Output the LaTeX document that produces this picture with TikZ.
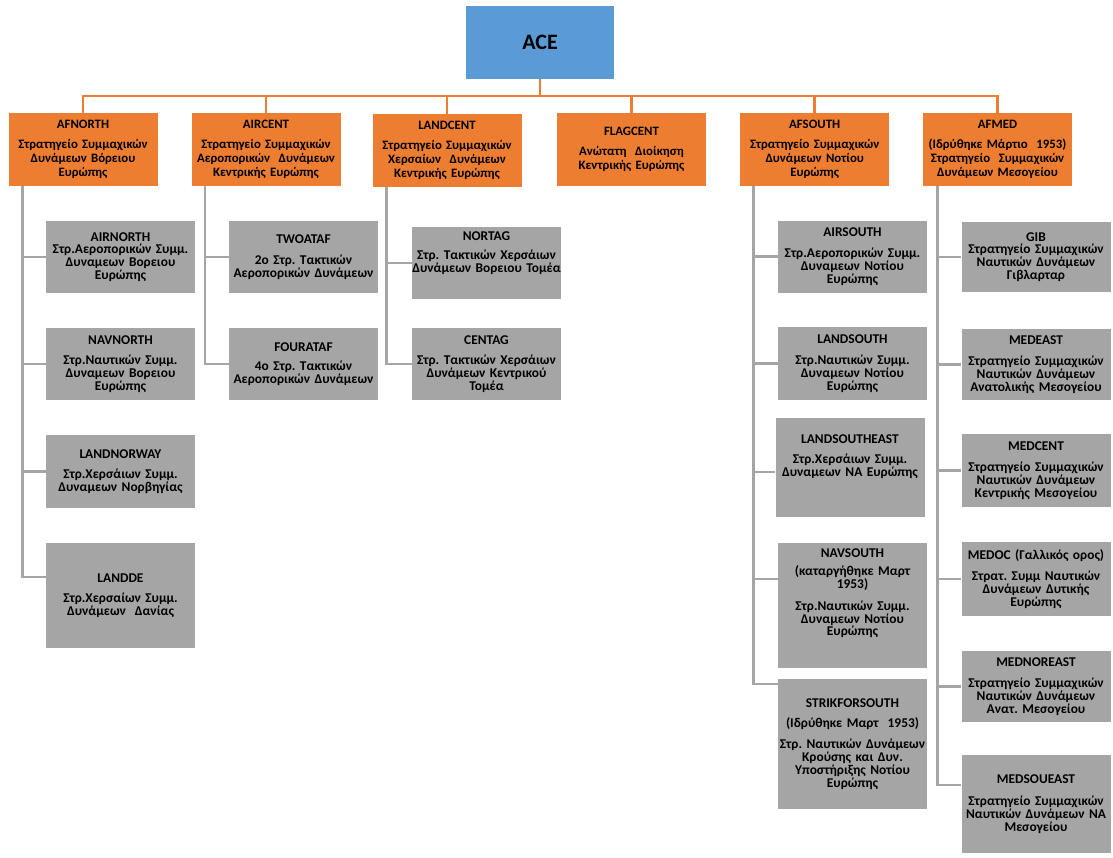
\documentclass[tikz,border=0pt]{standalone}
\usepackage{fontspec}
\setmainfont{Carlito}
\frenchspacing
\definecolor{ornge}{HTML}{ED7D31}
\definecolor{blu}{HTML}{5B9BD5}
\definecolor{gry}{HTML}{A5A5A5}
\begin{document}
\begin{tikzpicture}[x=1pt,y=-1pt,
 box/.style={inner ysep=0pt, inner xsep=-2pt, text width=153pt, align=center, minimum width=149pt, text=black, font=\bfseries\fontsize{13.4}{12.8}\selectfont},
 obox/.style={box, fill=ornge, minimum height=73pt, font=\bfseries\fontsize{12.8}{13.8}\selectfont},
 gbox/.style={box, fill=gry},
 acebox/.style={inner sep=0pt, fill=blu, minimum width=148pt, minimum height=73pt, font=\bfseries\fontsize{22}{25}\selectfont},
 oline/.style={draw=ornge, line width=2.6pt},
 gline/.style={draw=gry, line width=2.6pt},
]
\useasboundingbox (0,0) rectangle (1113,857);

\node[acebox] (ace) at (540,42) {ACE};

\node[obox] (afnorth) at (83,149.5) {AFNORTH\\[6pt]Στρατηγείο Συμμαχικών\\Δυνάμεων Βόρειου\\Ευρώπης};
\node[obox] (aircent) at (266,149.5) {AIRCENT\\[6pt]Στρατηγείο Συμμαχικών\\Αεροπορικών~ Δυνάμεων\\Κεντρικής Ευρώπης};
\node[obox] (landcent) at (447,150.5) {LANDCENT\\[6pt]Στρατηγείο Συμμαχικών\\Χερσαίων~ Δυνάμεων\\Κεντρικής Ευρώπης};
\node[obox] (flagcent) at (631.5,149.5) {FLAGCENT\\[6pt]Ανώτατη~ Διοίκηση\\Κεντρικής Ευρώπης};
\node[obox] (afsouth) at (814.7,149.5) {AFSOUTH\\[6pt]Στρατηγείο Συμμαχικών\\Δυνάμεων Νοτίου\\Ευρώπης};
\node[obox] (afmed) at (997.5,149.5) {AFMED\\[6pt](Ιδρύθηκε Μάρτιο~ 1953)\\Στρατηγείο~ Συμμαχικών\\Δυνάμεων Μεσογείου};

% AFNORTH column
\node[gbox, minimum height=72pt] (airnorth) at (120.5,257) {AIRNORTH\\Στρ.Αεροπορικών Συμμ.\\Δυναμεων Βορειου\\Ευρώπης};
\node[gbox, minimum height=72pt] (navnorth) at (120.5,364) {NAVNORTH\\[7pt]Στρ.Ναυτικών Συμμ.\\Δυναμεων Βορειου\\Ευρώπης};
\node[gbox, minimum height=73pt] (landnorway) at (120.5,471.5) {LANDNORWAY\\[7pt]Στρ.Χερσάιων Συμμ.\\Δυναμεων Νορβηγίας};
\node[gbox, minimum height=105pt] (landde) at (120.5,595.5) {LANDDE\\[8pt]Στρ.Χερσαίων Συμμ.\\Δυνάμεων~ Δανίας};

% AIRCENT column
\node[gbox, minimum height=72pt] (twoataf) at (303.5,257) {TWOATAF\\[8pt]2ο Στρ. Τακτικών\\Αεροπορικών Δυνάμεων};
\node[gbox, minimum height=72pt] (fourataf) at (303.5,364) {FOURATAF\\[7pt]4ο Στρ. Τακτικών\\Αεροπορικών Δυνάμεων};

% LANDCENT column
\node[gbox, minimum height=72pt] (nortag) at (486.5,263) {NORTAG\\[6pt]Στρ. Τακτικών Χερσάιων\\Δυνάμεων Βορειου Τομέα\par\vspace*{20pt}};
\node[gbox, minimum height=72pt] (centag) at (486.5,364) {CENTAG\\[8pt]Στρ. Τακτικών Χερσάιων\\Δυνάμεων Κεντρικού\\Τομέα};

% AFSOUTH column
\node[gbox, minimum height=72pt] (airsouth) at (852.5,256.5) {AIRSOUTH\\[8pt]Στρ.Αεροπορικών Συμμ.\\Δυναμεων Νοτίου\\Ευρώπης};
\node[gbox, minimum height=73pt] (landsouth) at (852.5,363.5) {LANDSOUTH\\[8pt]Στρ.Ναυτικών Συμμ.\\Δυναμεων Νοτίου\\Ευρώπης};
\node[gbox, minimum width=148pt, minimum height=99pt] (landsoutheast) at (850,467.5) {LANDSOUTHEAST\\[7pt]Στρ.Χερσάιων Συμμ.\\Δυναμεων ΝΑ Ευρώπης\par\vspace*{22pt}};
\node[gbox, minimum height=125pt] (navsouth) at (852.5,605.5) {NAVSOUTH\\[5pt](καταργήθηκε Μαρτ\\1953)\\[9pt]Στρ.Ναυτικών Συμμ.\\Δυναμεων Νοτίου\\Ευρώπης\par\vspace*{24pt}};
\node[gbox, minimum height=130pt] (strikforsouth) at (852.5,744) {STRIKFORSOUTH\\[7pt](Ιδρύθηκε Μαρτ~ 1953)\\[9pt]Στρ. Ναυτικών Δυνάμεων\\Κρούσης και Δυν.\\Υποστήριξης Νοτίου\\Ευρώπης};

% AFMED column
\node[gbox, minimum height=70pt] (gib) at (1036,257) {GIB\\Στρατηγείο Συμμαχικών\\Ναυτικών Δυνάμεων\\Γιβλαρταρ};
\node[gbox, minimum height=71pt] (medeast) at (1036,364.5) {MEDEAST\\[8pt]Στρατηγείο Συμμαχικών\\Ναυτικών Δυνάμεων\\Ανατολικής Μεσογείου};
\node[gbox, minimum height=73pt] (medcent) at (1036,470.5) {MEDCENT\\[8pt]Στρατηγείο Συμμαχικών\\Ναυτικών Δυνάμεων\\Κεντρικής Μεσογείου};
\node[gbox, minimum height=74pt] (medoc) at (1036,579) {MEDOC (Γαλλικός ορος)\\[8pt]Στρατ. Συμμ Ναυτικών\\Δυνάμεων Δυτικής\\Ευρώπης};
\node[gbox, minimum height=71pt] (mednoreast) at (1036,686.5) {MEDNOREAST\\[8pt]Στρατηγείο Συμμαχικών\\Ναυτικών Δυνάμεων\\Ανατ. Μεσογείου};
\node[gbox, minimum height=98pt] (medsoueast) at (1036,804) {MEDSOUEAST\\[10pt]Στρατηγείο Συμμαχικών\\Ναυτικών Δυνάμεων ΝΑ\\Μεσογείου};

% orange connectors
\coordinate (bar) at (540,96);
\draw[oline] (ace.south) -- (ace.south |- bar);
\draw[oline] (afnorth.north) -- (afnorth.north |- bar) -- (afmed.north |- bar) -- (afmed.north);
\foreach \n in {aircent,landcent,flagcent,afsouth}
  \draw[oline] (\n.north |- bar) -- (\n.north);

% gray connectors
\coordinate (tn) at ([xshift=14pt]afnorth.south west);
\draw[gline] (tn) |- (airnorth.west);
\draw[gline] (tn) |- (navnorth.west);
\draw[gline] (tn) |- (landnorway.west);
\draw[gline] (tn) |- ([yshift=18.5pt]landde.west);

\coordinate (ta) at ([xshift=13.7pt]aircent.south west);
\draw[gline] (ta) |- (twoataf.west);
\draw[gline] (ta) |- (fourataf.west);

\coordinate (tl) at ([xshift=14pt]landcent.south west);
\draw[gline] (tl) |- (nortag.west);
\draw[gline] (tl) |- (centag.west);

\coordinate (ts) at ([xshift=13.3pt]afsouth.south west);
\draw[gline] (ts) |- (airsouth.west);
\draw[gline] (ts) |- (landsouth.west);
\draw[gline] (ts) |- ([yshift=-4.5pt]landsoutheast.west);
\draw[gline] (ts) |- ([yshift=26.5pt]navsouth.west);
\draw[gline] (ts) |- ([yshift=60pt]strikforsouth.west);

\coordinate (tm) at ([xshift=14.5pt]afmed.south west);
\draw[gline] (tm) |- (gib.west);
\draw[gline] (tm) |- (medeast.west);
\draw[gline] (tm) |- (medcent.west);
\draw[gline] (tm) |- (medoc.west);
\draw[gline] (tm) |- (mednoreast.west);
\draw[gline] (tm) |- ([yshift=19pt]medsoueast.west);
\end{tikzpicture}
\end{document}
